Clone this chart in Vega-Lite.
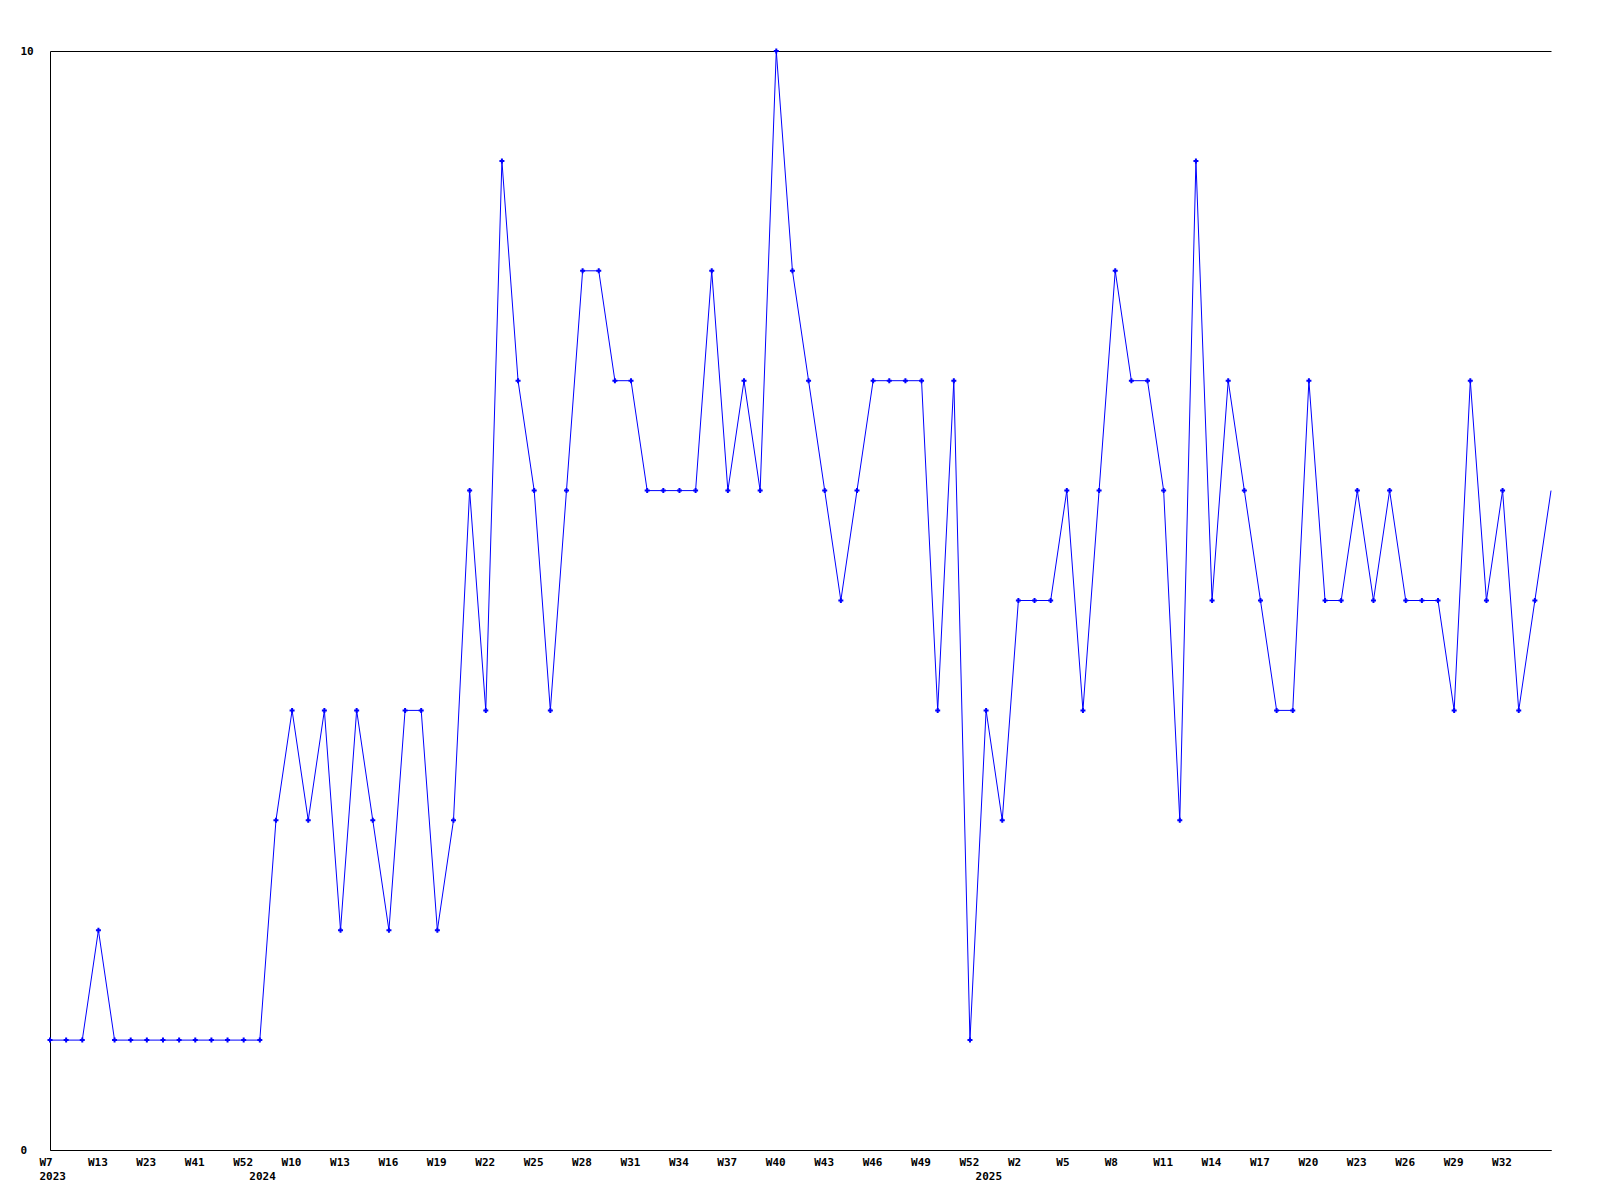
{
  "$schema": "https://vega.github.io/schema/vega-lite/v6.json",
  "width": 1501,
  "height": 1099,
  "autosize": {"type": "none"},
  "padding": {"left": 50, "top": 51, "right": 49, "bottom": 50},
  "background": "white",
  "config": {
    "view": {"stroke": null},
    "axis": {
      "labelFont": "DejaVu Sans Mono",
      "labelFontWeight": "bold",
      "labelFontSize": 11,
      "labelColor": "black",
      "domainColor": "black",
      "domainWidth": 1,
      "ticks": false,
      "tickSize": 0,
      "title": null
    }
  },
  "data": {
    "values": [
      {"key": "2023-W07", "v": 1}, {"key": "2023-W09", "v": 1}, {"key": "2023-W11", "v": 1},
      {"key": "2023-W13", "v": 2}, {"key": "2023-W16", "v": 1}, {"key": "2023-W19", "v": 1},
      {"key": "2023-W23", "v": 1}, {"key": "2023-W28", "v": 1}, {"key": "2023-W34", "v": 1},
      {"key": "2023-W41", "v": 1}, {"key": "2023-W45", "v": 1}, {"key": "2023-W48", "v": 1},
      {"key": "2023-W52", "v": 1},
      {"key": "2024-W08", "v": 1}, {"key": "2024-W09", "v": 3}, {"key": "2024-W10", "v": 4},
      {"key": "2024-W11", "v": 3}, {"key": "2024-W12", "v": 4}, {"key": "2024-W13", "v": 2},
      {"key": "2024-W14", "v": 4}, {"key": "2024-W15", "v": 3}, {"key": "2024-W16", "v": 2},
      {"key": "2024-W17", "v": 4}, {"key": "2024-W18", "v": 4}, {"key": "2024-W19", "v": 2},
      {"key": "2024-W20", "v": 3}, {"key": "2024-W21", "v": 6}, {"key": "2024-W22", "v": 4},
      {"key": "2024-W23", "v": 9}, {"key": "2024-W24", "v": 7}, {"key": "2024-W25", "v": 6},
      {"key": "2024-W26", "v": 4}, {"key": "2024-W27", "v": 6}, {"key": "2024-W28", "v": 8},
      {"key": "2024-W29", "v": 8}, {"key": "2024-W30", "v": 7}, {"key": "2024-W31", "v": 7},
      {"key": "2024-W32", "v": 6}, {"key": "2024-W33", "v": 6}, {"key": "2024-W34", "v": 6},
      {"key": "2024-W35", "v": 6}, {"key": "2024-W36", "v": 8}, {"key": "2024-W37", "v": 6},
      {"key": "2024-W38", "v": 7}, {"key": "2024-W39", "v": 6}, {"key": "2024-W40", "v": 10},
      {"key": "2024-W41", "v": 8}, {"key": "2024-W42", "v": 7}, {"key": "2024-W43", "v": 6},
      {"key": "2024-W44", "v": 5}, {"key": "2024-W45", "v": 6}, {"key": "2024-W46", "v": 7},
      {"key": "2024-W47", "v": 7}, {"key": "2024-W48", "v": 7}, {"key": "2024-W49", "v": 7},
      {"key": "2024-W50", "v": 4}, {"key": "2024-W51", "v": 7}, {"key": "2024-W52", "v": 1},
      {"key": "2025-W00", "v": 4}, {"key": "2025-W01", "v": 3}, {"key": "2025-W02", "v": 5},
      {"key": "2025-W03", "v": 5}, {"key": "2025-W04", "v": 5}, {"key": "2025-W05", "v": 6},
      {"key": "2025-W06", "v": 4}, {"key": "2025-W07", "v": 6}, {"key": "2025-W08", "v": 8},
      {"key": "2025-W09", "v": 7}, {"key": "2025-W10", "v": 7}, {"key": "2025-W11", "v": 6},
      {"key": "2025-W12", "v": 3}, {"key": "2025-W13", "v": 9}, {"key": "2025-W14", "v": 5},
      {"key": "2025-W15", "v": 7}, {"key": "2025-W16", "v": 6}, {"key": "2025-W17", "v": 5},
      {"key": "2025-W18", "v": 4}, {"key": "2025-W19", "v": 4}, {"key": "2025-W20", "v": 7},
      {"key": "2025-W21", "v": 5}, {"key": "2025-W22", "v": 5}, {"key": "2025-W23", "v": 6},
      {"key": "2025-W24", "v": 5}, {"key": "2025-W25", "v": 6}, {"key": "2025-W26", "v": 5},
      {"key": "2025-W27", "v": 5}, {"key": "2025-W28", "v": 5}, {"key": "2025-W29", "v": 4},
      {"key": "2025-W30", "v": 7}, {"key": "2025-W31", "v": 5}, {"key": "2025-W32", "v": 6},
      {"key": "2025-W33", "v": 4}, {"key": "2025-W34", "v": 5}, {"key": "2025-W35", "v": 6}
    ]
  },
  "encoding": {
    "x": {
      "field": "key",
      "type": "ordinal",
      "sort": null,
      "scale": {"type": "point", "padding": 0},
      "axis": {
        "orient": "bottom",
        "grid": false,
        "labelAngle": 0,
        "labelAlign": "left",
        "labelOffset": -11,
        "labelBaseline": "top",
        "labelPadding": 6,
        "labelLineHeight": 14,
        "labelOverlap": false,
        "labelBound": false,
        "labelFlush": false,
        "values": ["2023-W07", "2023-W13", "2023-W23", "2023-W41", "2023-W52",
          "2024-W08", "2024-W10", "2024-W13", "2024-W16", "2024-W19", "2024-W22", "2024-W25", "2024-W28",
          "2024-W31", "2024-W34", "2024-W37", "2024-W40", "2024-W43", "2024-W46", "2024-W49", "2024-W52",
          "2025-W00", "2025-W02", "2025-W05", "2025-W08", "2025-W11", "2025-W14", "2025-W17", "2025-W20",
          "2025-W23", "2025-W26", "2025-W29", "2025-W32"],
        "labelExpr": "[indexof(['2024-W08','2025-W00'], datum.value) >= 0 ? '' : 'W' + toNumber(slice(datum.value, 6)), indexof(['2023-W07','2024-W08','2025-W00'], datum.value) >= 0 ? slice(datum.value, 0, 4) : '']"
      }
    },
    "y": {
      "field": "v",
      "type": "quantitative",
      "scale": {"domain": [0, 10], "nice": false, "zero": true},
      "axis": {
        "values": [0, 10],
        "grid": true,
        "gridColor": "black",
        "gridOpacity": 1,
        "gridWidth": 1,
        "labelAlign": "left",
        "labelBaseline": "middle",
        "labelPadding": 30
      }
    }
  },
  "layer": [
    {"mark": {"type": "line", "color": "#0000ff", "strokeWidth": 1}},
    {
      "transform": [{"filter": "datum.key != '2025-W35'"}],
      "mark": {"type": "point", "shape": "cross", "filled": true, "color": "#0000ff", "size": 25, "opacity": 1}
    }
  ]
}
